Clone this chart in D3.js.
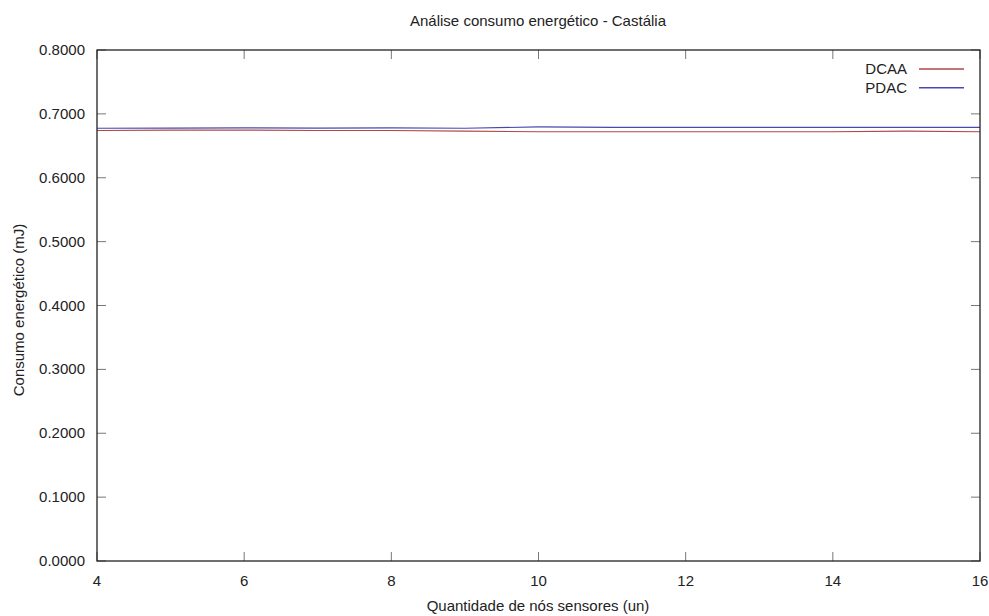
<!DOCTYPE html>
<html>
<head>
<meta charset="utf-8">
<script src="https://cdn.jsdelivr.net/npm/d3@7"></script>
<style>
  body { margin: 0; background: #fff; }
  .text { font-family: "Liberation Sans", Arial, sans-serif; font-size: 15px; fill: #222; }
</style>
</head>
<body>
<svg class="chart" width="989" height="616"></svg>
<script>
const nodes = [4, 5, 6, 7, 8, 9, 10, 11, 12, 13, 14, 15, 16];
const dcaa = [0.6740, 0.6745, 0.6745, 0.6740, 0.6740, 0.6730, 0.6720, 0.6720, 0.6720, 0.6720, 0.6720, 0.6730, 0.6720];
const pdac = [0.6775, 0.6778, 0.6780, 0.6778, 0.6780, 0.6775, 0.6795, 0.6790, 0.6790, 0.6790, 0.6790, 0.6790, 0.6790];
const xTicks = [4, 6, 8, 10, 12, 14, 16];
const yTicks = [0, 0.1, 0.2, 0.3, 0.4, 0.5, 0.6, 0.7, 0.8];

const series = [
  { name: 'DCAA', values: dcaa, color: '#b04848' },
  { name: 'PDAC', values: pdac, color: '#4848b0' },
];

const startApp = () => {
  const margin = { top: 50, left: 97, bottom: 55, right: 9 };
  const width = 989 - margin.left - margin.right;
  const height = 616 - margin.top - margin.bottom;
  const tick = 9;
  const svg = d3.select('.chart');
  const chart = svg.append('g').attr('transform', `translate(${margin.left}, ${margin.top})`);

  const xScale = d3.scaleLinear().domain([4, 16]).range([0, width]);
  const yScale = d3.scaleLinear().domain([0, 0.8]).range([height, 0]);

  // inward ticks on all four sides, like gnuplot
  chart.selectAll('.ytick').data(yTicks).enter().append('path')
    .attr('d', d => `M0,${yScale(d)}h${tick}M${width},${yScale(d)}h${-tick}`)
    .attr('stroke', '#777').attr('stroke-width', 1);
  chart.selectAll('.xtick').data(xTicks).enter().append('path')
    .attr('d', d => `M${xScale(d)},${height}v${-tick}M${xScale(d)},0v${tick}`)
    .attr('stroke', '#777').attr('stroke-width', 1);

  chart.selectAll('text.ylab').data(yTicks).enter().append('text')
    .attr('class', 'text ylab')
    .attr('x', -12).attr('y', d => yScale(d) + 5)
    .attr('text-anchor', 'end')
    .text(d => d3.format('.4f')(d));
  chart.selectAll('text.xlab').data(xTicks).enter().append('text')
    .attr('class', 'text xlab')
    .attr('x', d => xScale(d)).attr('y', height + 25)
    .attr('text-anchor', 'middle')
    .text(d => d);

  const line = d3.line().x((d, i) => xScale(nodes[i])).y(d => yScale(d));
  series.forEach(({ values, color }) => {
    chart.append('path').datum(values)
      .attr('d', line)
      .attr('fill', 'none').attr('stroke', color).attr('stroke-width', 1.2);
  });

  chart.append('rect')
    .attr('width', width).attr('height', height)
    .attr('fill', 'none').attr('stroke', '#222').attr('stroke-width', 1.3);

  // legend
  series.forEach(({ name, color }, i) => {
    const y = 19 + i * 18.7;
    chart.append('text').attr('class', 'text')
      .attr('x', 810).attr('y', y + 5).attr('text-anchor', 'end').text(name);
    chart.append('line')
      .attr('x1', 822).attr('x2', 867).attr('y1', y).attr('y2', y)
      .attr('stroke', color).attr('stroke-width', 1.5);
  });

  svg.append('text').attr('class', 'text')
    .attr('x', 538).attr('y', 26).attr('text-anchor', 'middle')
    .text('Análise consumo energético - Castália');
  svg.append('text').attr('class', 'text')
    .attr('x', 538).attr('y', 611).attr('text-anchor', 'middle')
    .text('Quantidade de nós sensores (un)');
  svg.append('text').attr('class', 'text')
    .attr('transform', 'translate(24, 310) rotate(-90)').attr('text-anchor', 'middle')
    .text('Consumo energético (mJ)');
};

window.onload = startApp;
</script>
</body>
</html>
